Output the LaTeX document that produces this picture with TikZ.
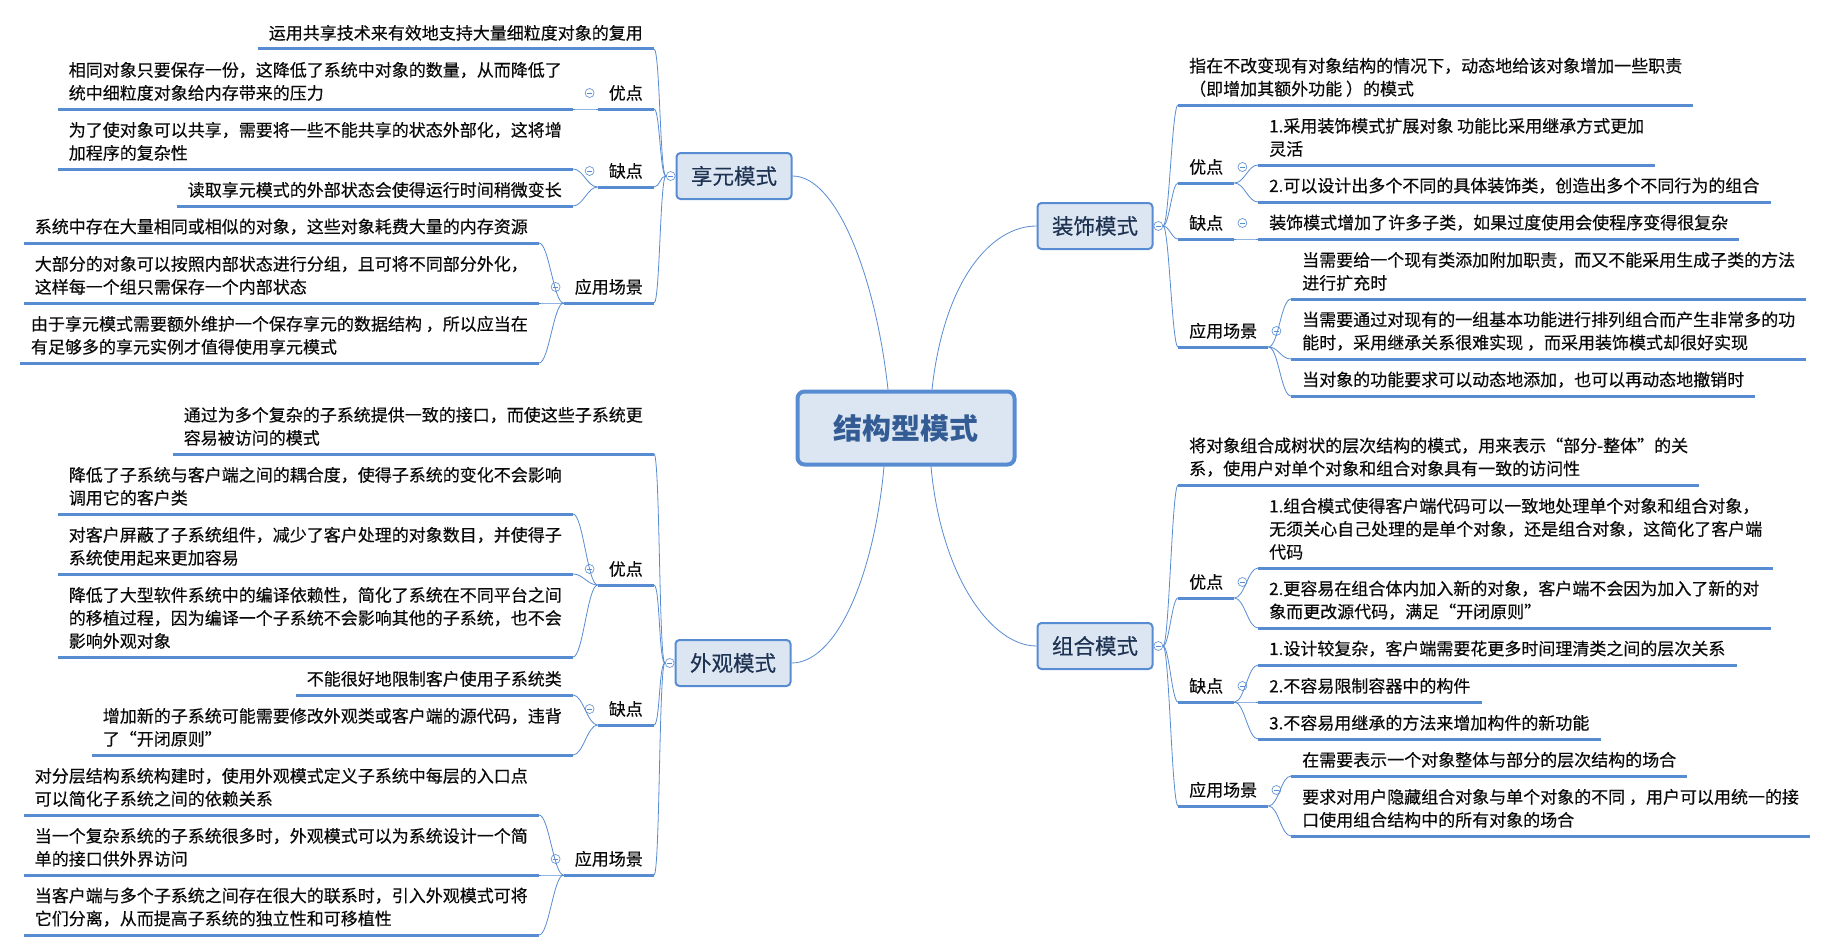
\documentclass[tikz,border=0pt]{standalone}
\usepackage{fontspec}
\setmainfont{Noto Sans CJK SC}
\newfontfamily\leafcjk{Noto Sans CJK SC}[FakeBold=0.35]
\usepackage{xcolor}
\definecolor{lineblue}{RGB}{88,140,210}
\definecolor{boxfill}{RGB}{220,230,242}
\definecolor{topicnavy}{RGB}{30,50,82}
\definecolor{rootblue}{RGB}{52,92,148}
\definecolor{leafgrey}{RGB}{10,10,10}
\usepackage{tikz}
\usetikzlibrary{positioning}

\newcommand{\leaffont}{\leafcjk\fontsize{17}{23}\selectfont}
\newcommand{\topicfont}{\leafcjk\fontsize{21.5}{26}\selectfont}
\newcommand{\rootfont}{\fontsize{29}{34}\selectfont\bfseries}

\tikzset{
  uline/.style={draw=lineblue, line width=3pt},
  leaf/.style={font=\leaffont, text=leafgrey, align=left, inner xsep=11pt, inner ysep=8pt,
    append after command={(\tikzlastnode.south west) edge[uline] (\tikzlastnode.south east)}},
  lleaf/.style={leaf, anchor=south east},
  rleaf/.style={leaf, anchor=south west},
  topicbox/.style={draw=lineblue, line width=2pt, fill=boxfill, rounded corners=4pt,
    minimum width=115pt, minimum height=46pt, inner sep=0pt, font=\topicfont, text=topicnavy},
  rootbox/.style={draw=lineblue, line width=4pt, fill=boxfill, rounded corners=7pt,
    minimum width=217pt, minimum height=73pt, inner sep=0pt, font=\rootfont, text=rootblue},
  fold/.style={circle, draw=lineblue, fill=white, line width=0.6pt, minimum size=9pt, inner sep=0pt,
    path picture={\draw[lineblue, line width=0.6pt] ([xshift=-2.5pt]path picture bounding box.center) -- ([xshift=2.5pt]path picture bounding box.center);}},
  branch/.style={draw=lineblue, line width=0.8pt},
  tol/.style={out=180, in=0, distance=#1}, tol/.default=6pt,
  tor/.style={out=0, in=180, distance=#1}, tor/.default=6pt,
}

\begin{document}
\begin{tikzpicture}[x=1pt, y=-1pt]
    \path[use as bounding box, fill=white] (0,0) rectangle (1831,950);

    % centre and the four patterns
    \node[rootbox] (root) at (906,428) {结构型模式};
    \node[topicbox] (xy) at (734,176) {享元模式};
    \node[topicbox] (wg) at (733,663) {外观模式};
    \node[topicbox] (zs) at (1095,226) {装饰模式};
    \node[topicbox] (zh) at (1095,646) {组合模式};
    \node[fold, left=0pt of xy] (xyf) {};
    \node[fold, left=0pt of wg] (wgf) {};
    \node[fold, right=0pt of zs] (zsf) {};
    \node[fold, right=0pt of zh] (zhf) {};

    \draw[branch] ([xshift=-18pt]root.north) .. controls +(-12,-110) and +(45,0) .. (xy.east);
    \draw[branch] ([xshift=-22pt]root.south) .. controls +(-10,110) and +(45,0) .. (wg.east);
    \draw[branch] ([xshift=26pt]root.north) .. controls +(12,-110) and +(-45,0) .. (zs.west);
    \draw[branch] ([xshift=25pt]root.south) .. controls +(10,110) and +(-45,0) .. (zh.west);

    % 享元模式
    \node[lleaf] (xy1) at (654,49) {运用共享技术来有效地支持大量细粒度对象的复用};
    \node[lleaf] (xy2) at (654,109) {优点};
    \node[lleaf] (xy3) at (654,187) {缺点};
    \node[lleaf] (xy4) at (654,303) {应用场景};
    \node[lleaf] (xy21) at (573,109) {相同对象只要保存一份，这降低了系统中对象的数量，从而降低了\\统中细粒度对象给内存带来的压力};
    \node[lleaf] (xy31) at (573,169) {为了使对象可以共享，需要将一些不能共享的状态外部化，这将增\\加程序的复杂性};
    \node[lleaf] (xy32) at (573,206) {读取享元模式的外部状态会使得运行时间稍微变长};
    \node[lleaf] (xy41) at (539,243) {系统中存在大量相同或相似的对象，这些对象耗费大量的内存资源};
    \node[lleaf] (xy42) at (539,303) {大部分的对象可以按照内部状态进行分组，且可将不同部分外化，\\这样每一个组只需保存一个内部状态};
    \node[lleaf] (xy43) at (539,363) {由于享元模式需要额外维护一个保存享元的数据结构 ，所以应当在\\有足够多的享元实例才值得使用享元模式};
    \node[fold] (xy2f) at ([shift={(-8,-16)}]xy2.south west) {};
    \node[fold] (xy3f) at ([shift={(-8,-16)}]xy3.south west) {};
    \node[fold] (xy4f) at ([shift={(-8,-16)}]xy4.south west) {};

    \draw[branch] (xyf.west) to[tol] (xy1.south east);
    \draw[branch] (xyf.west) to[tol] (xy2.south east);
    \draw[branch] (xyf.west) to[tol] (xy3.south east);
    \draw[branch] (xyf.west) to[tol] (xy4.south east);
    \draw[branch] (xy2.south west) to[tol=10pt] (xy21.south east);
    \draw[branch] (xy3.south west) to[tol=10pt] (xy31.south east);
    \draw[branch] (xy3.south west) to[tol=10pt] (xy32.south east);
    \draw[branch] (xy4.south west) to[tol=10pt] (xy41.south east);
    \draw[branch] (xy4.south west) to[tol=10pt] (xy42.south east);
    \draw[branch] (xy4.south west) to[tol=10pt] (xy43.south east);

    % 外观模式
    \node[lleaf] (wg1) at (654,454) {通过为多个复杂的子系统提供一致的接口，而使这些子系统更\\容易被访问的模式};
    \node[lleaf] (wg2) at (654,585) {优点};
    \node[lleaf] (wg3) at (654,725) {缺点};
    \node[lleaf] (wg4) at (654,875) {应用场景};
    \node[lleaf] (wg21) at (573,514) {降低了子系统与客户端之间的耦合度，使得子系统的变化不会影响\\调用它的客户类};
    \node[lleaf] (wg22) at (573,574) {对客户屏蔽了子系统组件，减少了客户处理的对象数目，并使得子\\系统使用起来更加容易};
    \node[lleaf] (wg23) at (573,657) {降低了大型软件系统中的编译依赖性，简化了系统在不同平台之间\\的移植过程，因为编译一个子系统不会影响其他的子系统，也不会\\影响外观对象};
    \node[lleaf] (wg31) at (573,695) {不能很好地限制客户使用子系统类};
    \node[lleaf] (wg32) at (573,755) {增加新的子系统可能需要修改外观类或客户端的源代码，违背\\了“开闭原则”};
    \node[lleaf] (wg41) at (539,815) {对分层结构系统构建时，使用外观模式定义子系统中每层的入口点\\可以简化子系统之间的依赖关系};
    \node[lleaf] (wg42) at (539,875) {当一个复杂系统的子系统很多时，外观模式可以为系统设计一个简\\单的接口供外界访问};
    \node[lleaf] (wg43) at (539,935) {当客户端与多个子系统之间存在很大的联系时，引入外观模式可将\\它们分离，从而提高子系统的独立性和可移植性};
    \node[fold] (wg2f) at ([shift={(-8,-16)}]wg2.south west) {};
    \node[fold] (wg3f) at ([shift={(-8,-16)}]wg3.south west) {};
    \node[fold] (wg4f) at ([shift={(-8,-16)}]wg4.south west) {};

    \draw[branch] (wgf.west) to[tol] (wg1.south east);
    \draw[branch] (wgf.west) to[tol] (wg2.south east);
    \draw[branch] (wgf.west) to[tol] (wg3.south east);
    \draw[branch] (wgf.west) to[tol] (wg4.south east);
    \draw[branch] (wg2.south west) to[tol=10pt] (wg21.south east);
    \draw[branch] (wg2.south west) to[tol=10pt] (wg22.south east);
    \draw[branch] (wg2.south west) to[tol=10pt] (wg23.south east);
    \draw[branch] (wg3.south west) to[tol=10pt] (wg31.south east);
    \draw[branch] (wg3.south west) to[tol=10pt] (wg32.south east);
    \draw[branch] (wg4.south west) to[tol=10pt] (wg41.south east);
    \draw[branch] (wg4.south west) to[tol=10pt] (wg42.south east);
    \draw[branch] (wg4.south west) to[tol=10pt] (wg43.south east);

    % 装饰模式
    \node[rleaf] (zs1) at (1178,105) {指在不改变现有对象结构的情况下，动态地给该对象增加一些职责\\（即增加其额外功能 ）的模式};
    \node[rleaf] (zs2) at (1178,183) {优点};
    \node[rleaf] (zs3) at (1178,239) {缺点};
    \node[rleaf] (zs4) at (1178,347) {应用场景};
    \node[rleaf] (zs21) at (1258,165) {1.采用装饰模式扩展对象 功能比采用继承方式更加\\灵活};
    \node[rleaf] (zs22) at (1258,202) {2.可以设计出多个不同的具体装饰类，创造出多个不同行为的组合};
    \node[rleaf] (zs31) at (1258,239) {装饰模式增加了许多子类，如果过度使用会使程序变得很复杂};
    \node[rleaf] (zs41) at (1291,299) {当需要给一个现有类添加附加职责，而又不能采用生成子类的方法\\进行扩充时};
    \node[rleaf] (zs42) at (1291,359) {当需要通过对现有的一组基本功能进行排列组合而产生非常多的功\\能时，采用继承关系很难实现 ，而采用装饰模式却很好实现};
    \node[rleaf] (zs43) at (1291,396) {当对象的功能要求可以动态地添加，也可以再动态地撤销时};
    \node[fold] (zs2f) at ([shift={(8,-16)}]zs2.south east) {};
    \node[fold] (zs3f) at ([shift={(8,-16)}]zs3.south east) {};
    \node[fold] (zs4f) at ([shift={(8,-16)}]zs4.south east) {};

    \draw[branch] (zsf.east) to[tor] (zs1.south west);
    \draw[branch] (zsf.east) to[tor] (zs2.south west);
    \draw[branch] (zsf.east) to[tor] (zs3.south west);
    \draw[branch] (zsf.east) to[tor] (zs4.south west);
    \draw[branch] (zs2.south east) to[tor=10pt] (zs21.south west);
    \draw[branch] (zs2.south east) to[tor=10pt] (zs22.south west);
    \draw[branch] (zs3.south east) to[tor=10pt] (zs31.south west);
    \draw[branch] (zs4.south east) to[tor=10pt] (zs41.south west);
    \draw[branch] (zs4.south east) to[tor=10pt] (zs42.south west);
    \draw[branch] (zs4.south east) to[tor=10pt] (zs43.south west);

    % 组合模式
    \node[rleaf] (zh1) at (1178,485) {将对象组合成树状的层次结构的模式，用来表示“部分-整体”的关\\系，使用户对单个对象和组合对象具有一致的访问性};
    \node[rleaf] (zh2) at (1178,598) {优点};
    \node[rleaf] (zh3) at (1178,702) {缺点};
    \node[rleaf] (zh4) at (1178,806) {应用场景};
    \node[rleaf] (zh21) at (1258,568) {1.组合模式使得客户端代码可以一致地处理单个对象和组合对象，\\无须关心自己处理的是单个对象，还是组合对象，这简化了客户端\\代码};
    \node[rleaf] (zh22) at (1258,628) {2.更容易在组合体内加入新的对象，客户端不会因为加入了新的对\\象而更改源代码，满足“开闭原则”};
    \node[rleaf] (zh31) at (1258,665) {1.设计较复杂，客户端需要花更多时间理清类之间的层次关系};
    \node[rleaf] (zh32) at (1258,702) {2.不容易限制容器中的构件};
    \node[rleaf] (zh33) at (1258,739) {3.不容易用继承的方法来增加构件的新功能};
    \node[rleaf] (zh41) at (1291,776) {在需要表示一个对象整体与部分的层次结构的场合};
    \node[rleaf] (zh42) at (1291,836) {要求对用户隐藏组合对象与单个对象的不同 ，用户可以用统一的接\\口使用组合结构中的所有对象的场合};
    \node[fold] (zh2f) at ([shift={(8,-16)}]zh2.south east) {};
    \node[fold] (zh3f) at ([shift={(8,-16)}]zh3.south east) {};
    \node[fold] (zh4f) at ([shift={(8,-16)}]zh4.south east) {};

    \draw[branch] (zhf.east) to[tor] (zh1.south west);
    \draw[branch] (zhf.east) to[tor] (zh2.south west);
    \draw[branch] (zhf.east) to[tor] (zh3.south west);
    \draw[branch] (zhf.east) to[tor] (zh4.south west);
    \draw[branch] (zh2.south east) to[tor=10pt] (zh21.south west);
    \draw[branch] (zh2.south east) to[tor=10pt] (zh22.south west);
    \draw[branch] (zh3.south east) to[tor=10pt] (zh31.south west);
    \draw[branch] (zh3.south east) to[tor=10pt] (zh32.south west);
    \draw[branch] (zh3.south east) to[tor=10pt] (zh33.south west);
    \draw[branch] (zh4.south east) to[tor=10pt] (zh41.south west);
    \draw[branch] (zh4.south east) to[tor=10pt] (zh42.south west);
\end{tikzpicture}
\end{document}
